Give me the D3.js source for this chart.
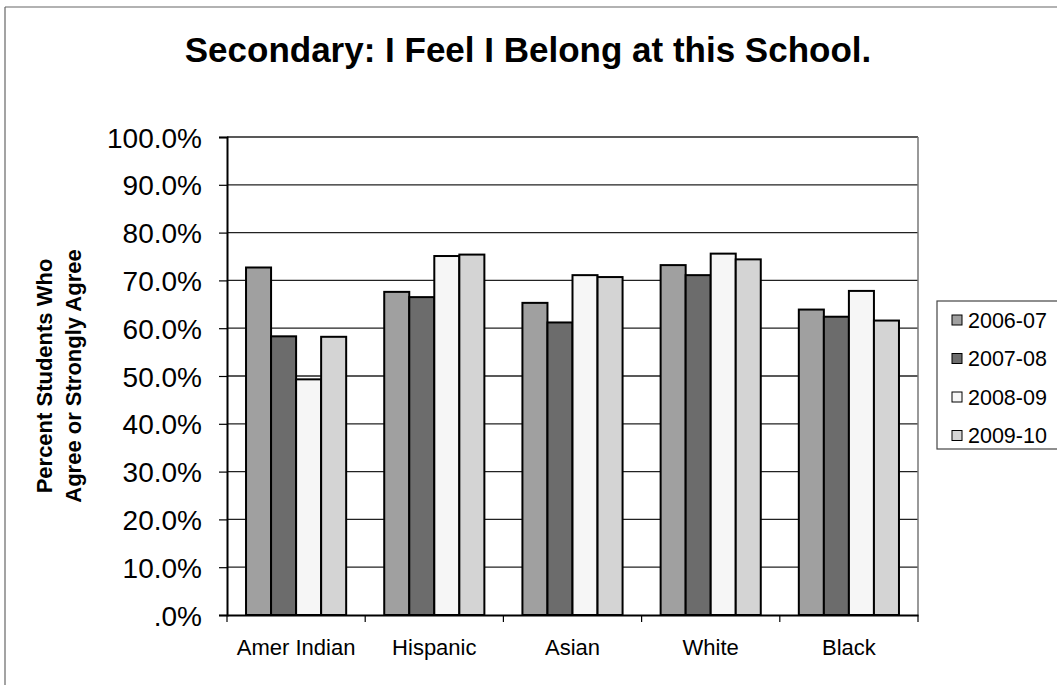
<!DOCTYPE html>
<html>
<head>
<meta charset="utf-8">
<script src="https://cdn.jsdelivr.net/npm/d3@7"></script>
<style>
  body { margin: 0; background: #fff; }
  svg { display: block; font-family: "Liberation Sans", Arial, sans-serif; }
</style>
</head>
<body>
<svg id="chart1" width="1057" height="685"></svg>
<script>
var groups = ["Amer Indian", "Hispanic", "Asian", "White", "Black"];
var years = ["2006-07", "2007-08", "2008-09", "2009-10"];
var v0607 = [72.7, 67.6, 65.3, 73.2, 63.9];
var v0708 = [58.3, 66.5, 61.2, 71.1, 62.4];
var v0809 = [49.3, 75.1, 71.1, 75.6, 67.8];
var v0910 = [58.2, 75.4, 70.7, 74.4, 61.6];
var yTicks = [0, 10, 20, 30, 40, 50, 60, 70, 80, 90, 100];
var yearFill = ["#a0a0a0", "#6c6c6c", "#f6f6f6", "#d4d4d4"];

draw_chart();

function draw_chart() {
	var svg = d3.select('#chart1');
	svg.selectAll("*").remove();

	var series = [v0607, v0708, v0809, v0910];
	var plot = {left: 227, right: 918, top: 137, bottom: 615};

	// outer frame (only top and left edges show in the scan)
	svg.append("line")
		.attr("x1", 5).attr("y1", 7).attr("x2", 1057).attr("y2", 7)
		.style("stroke", "#666").style("stroke-width", 1.2);
	svg.append("line")
		.attr("x1", 5).attr("y1", 7).attr("x2", 5).attr("y2", 685)
		.style("stroke", "#666").style("stroke-width", 1.2);

	svg.append("text")
		.attr("x", 528)
		.attr("y", 62)
		.attr("text-anchor", "middle")
		.style("font-size", "35px")
		.style("font-weight", "bold")
		.text("Secondary: I Feel I Belong at this School.");

	var x0 = d3.scaleBand()
		.domain(groups)
		.range([plot.left, plot.right])
		.padding(0);

	var x1 = d3.scaleBand()
		.domain(years)
		.range([0, x0.bandwidth()])
		.paddingInner(0)
		.paddingOuter(0.76);

	var y = d3.scaleLinear()
		.domain([0, 100])
		.range([plot.bottom, plot.top]);

	// gridlines
	svg.append("g")
		.selectAll("line")
		.data(yTicks.filter(function (d) { return d > 0; }))
		.enter().append("line")
		.attr("x1", plot.left)
		.attr("x2", plot.right)
		.attr("y1", function (d) { return y(d); })
		.attr("y2", function (d) { return y(d); })
		.style("stroke", "#222")
		.style("stroke-width", 1.3);

	// right border of plot area
	svg.append("line")
		.attr("x1", plot.right).attr("x2", plot.right)
		.attr("y1", plot.top).attr("y2", plot.bottom)
		.style("stroke", "#777").style("stroke-width", 1.5);

	// bars
	var gBars = svg.append("g");
	years.forEach(function (yr, j) {
		gBars.selectAll(".bar" + j)
			.data(series[j])
			.enter().append("rect")
			.attr("class", "bar" + j)
			.attr("x", function (d, i) { return x0(groups[i]) + x1(yr); })
			.attr("width", x1.bandwidth())
			.attr("y", function (d) { return y(d); })
			.attr("height", function (d) { return y(0) - y(d); })
			.style("fill", yearFill[j])
			.style("stroke", "#000")
			.style("stroke-width", 2);
	});

	// y axis
	var yAxis = d3.axisLeft(y)
		.tickValues(yTicks)
		.tickSize(8)
		.tickFormat(function (d) { return d === 0 ? ".0%" : d.toFixed(1) + "%"; });
	var gy = svg.append("g")
		.attr("transform", "translate(" + plot.left + ",0)")
		.call(yAxis);
	gy.select(".domain").style("stroke", "#000").style("stroke-width", 2);
	gy.selectAll(".tick line").style("stroke", "#000").style("stroke-width", 1.2);
	gy.selectAll(".tick text")
		.attr("x", -25)
		.attr("dy", "0.36em")
		.style("font-size", "28px")
		.style("font-family", "Liberation Sans, Arial, sans-serif")
		.style("fill", "#000");

	// x axis
	var xAxis = d3.axisBottom(x0).tickSize(0).tickPadding(24);
	var gx = svg.append("g")
		.attr("transform", "translate(0," + plot.bottom + ")")
		.call(xAxis);
	gx.select(".domain").style("stroke", "#000").style("stroke-width", 2);
	gx.selectAll(".tick text")
		.style("font-size", "22px")
		.style("font-family", "Liberation Sans, Arial, sans-serif")
		.style("fill", "#000");
	// ticks between categories
	gx.selectAll(".sep")
		.data(groups.concat(["end"]))
		.enter().append("line")
		.attr("class", "sep")
		.attr("x1", function (d, i) { return plot.left + i * x0.step(); })
		.attr("x2", function (d, i) { return plot.left + i * x0.step(); })
		.attr("y1", 0)
		.attr("y2", 7)
		.style("stroke", "#000")
		.style("stroke-width", 1.2);

	// y axis title
	svg.append("text")
		.attr("transform", "translate(52," + ((plot.top + plot.bottom) / 2) + ") rotate(-90)")
		.attr("text-anchor", "middle")
		.style("font-size", "22px")
		.style("font-weight", "bold")
		.text("Percent Students Who");
	svg.append("text")
		.attr("transform", "translate(81," + ((plot.top + plot.bottom) / 2) + ") rotate(-90)")
		.attr("text-anchor", "middle")
		.style("font-size", "22px")
		.style("font-weight", "bold")
		.text("Agree or Strongly Agree");

	// legend
	var legend = svg.append("g");
	legend.append("rect")
		.attr("x", 937)
		.attr("y", 301)
		.attr("width", 140)
		.attr("height", 148)
		.style("fill", "#fff")
		.style("stroke", "#444")
		.style("stroke-width", 1.2);

	var item = legend.selectAll(".item")
		.data(years)
		.enter().append("g")
		.attr("class", "item")
		.attr("transform", function (d, i) { return "translate(952," + (320 + i * 38.5) + ")"; });
	item.append("rect")
		.attr("x", 0)
		.attr("y", -5)
		.attr("width", 10)
		.attr("height", 10)
		.style("fill", function (d, i) { return yearFill[i]; })
		.style("stroke", "#000")
		.style("stroke-width", 1);
	item.append("text")
		.attr("x", 16)
		.attr("dy", "0.36em")
		.style("font-size", "21.5px")
		.text(function (d) { return d; });
}
</script>
</body>
</html>
